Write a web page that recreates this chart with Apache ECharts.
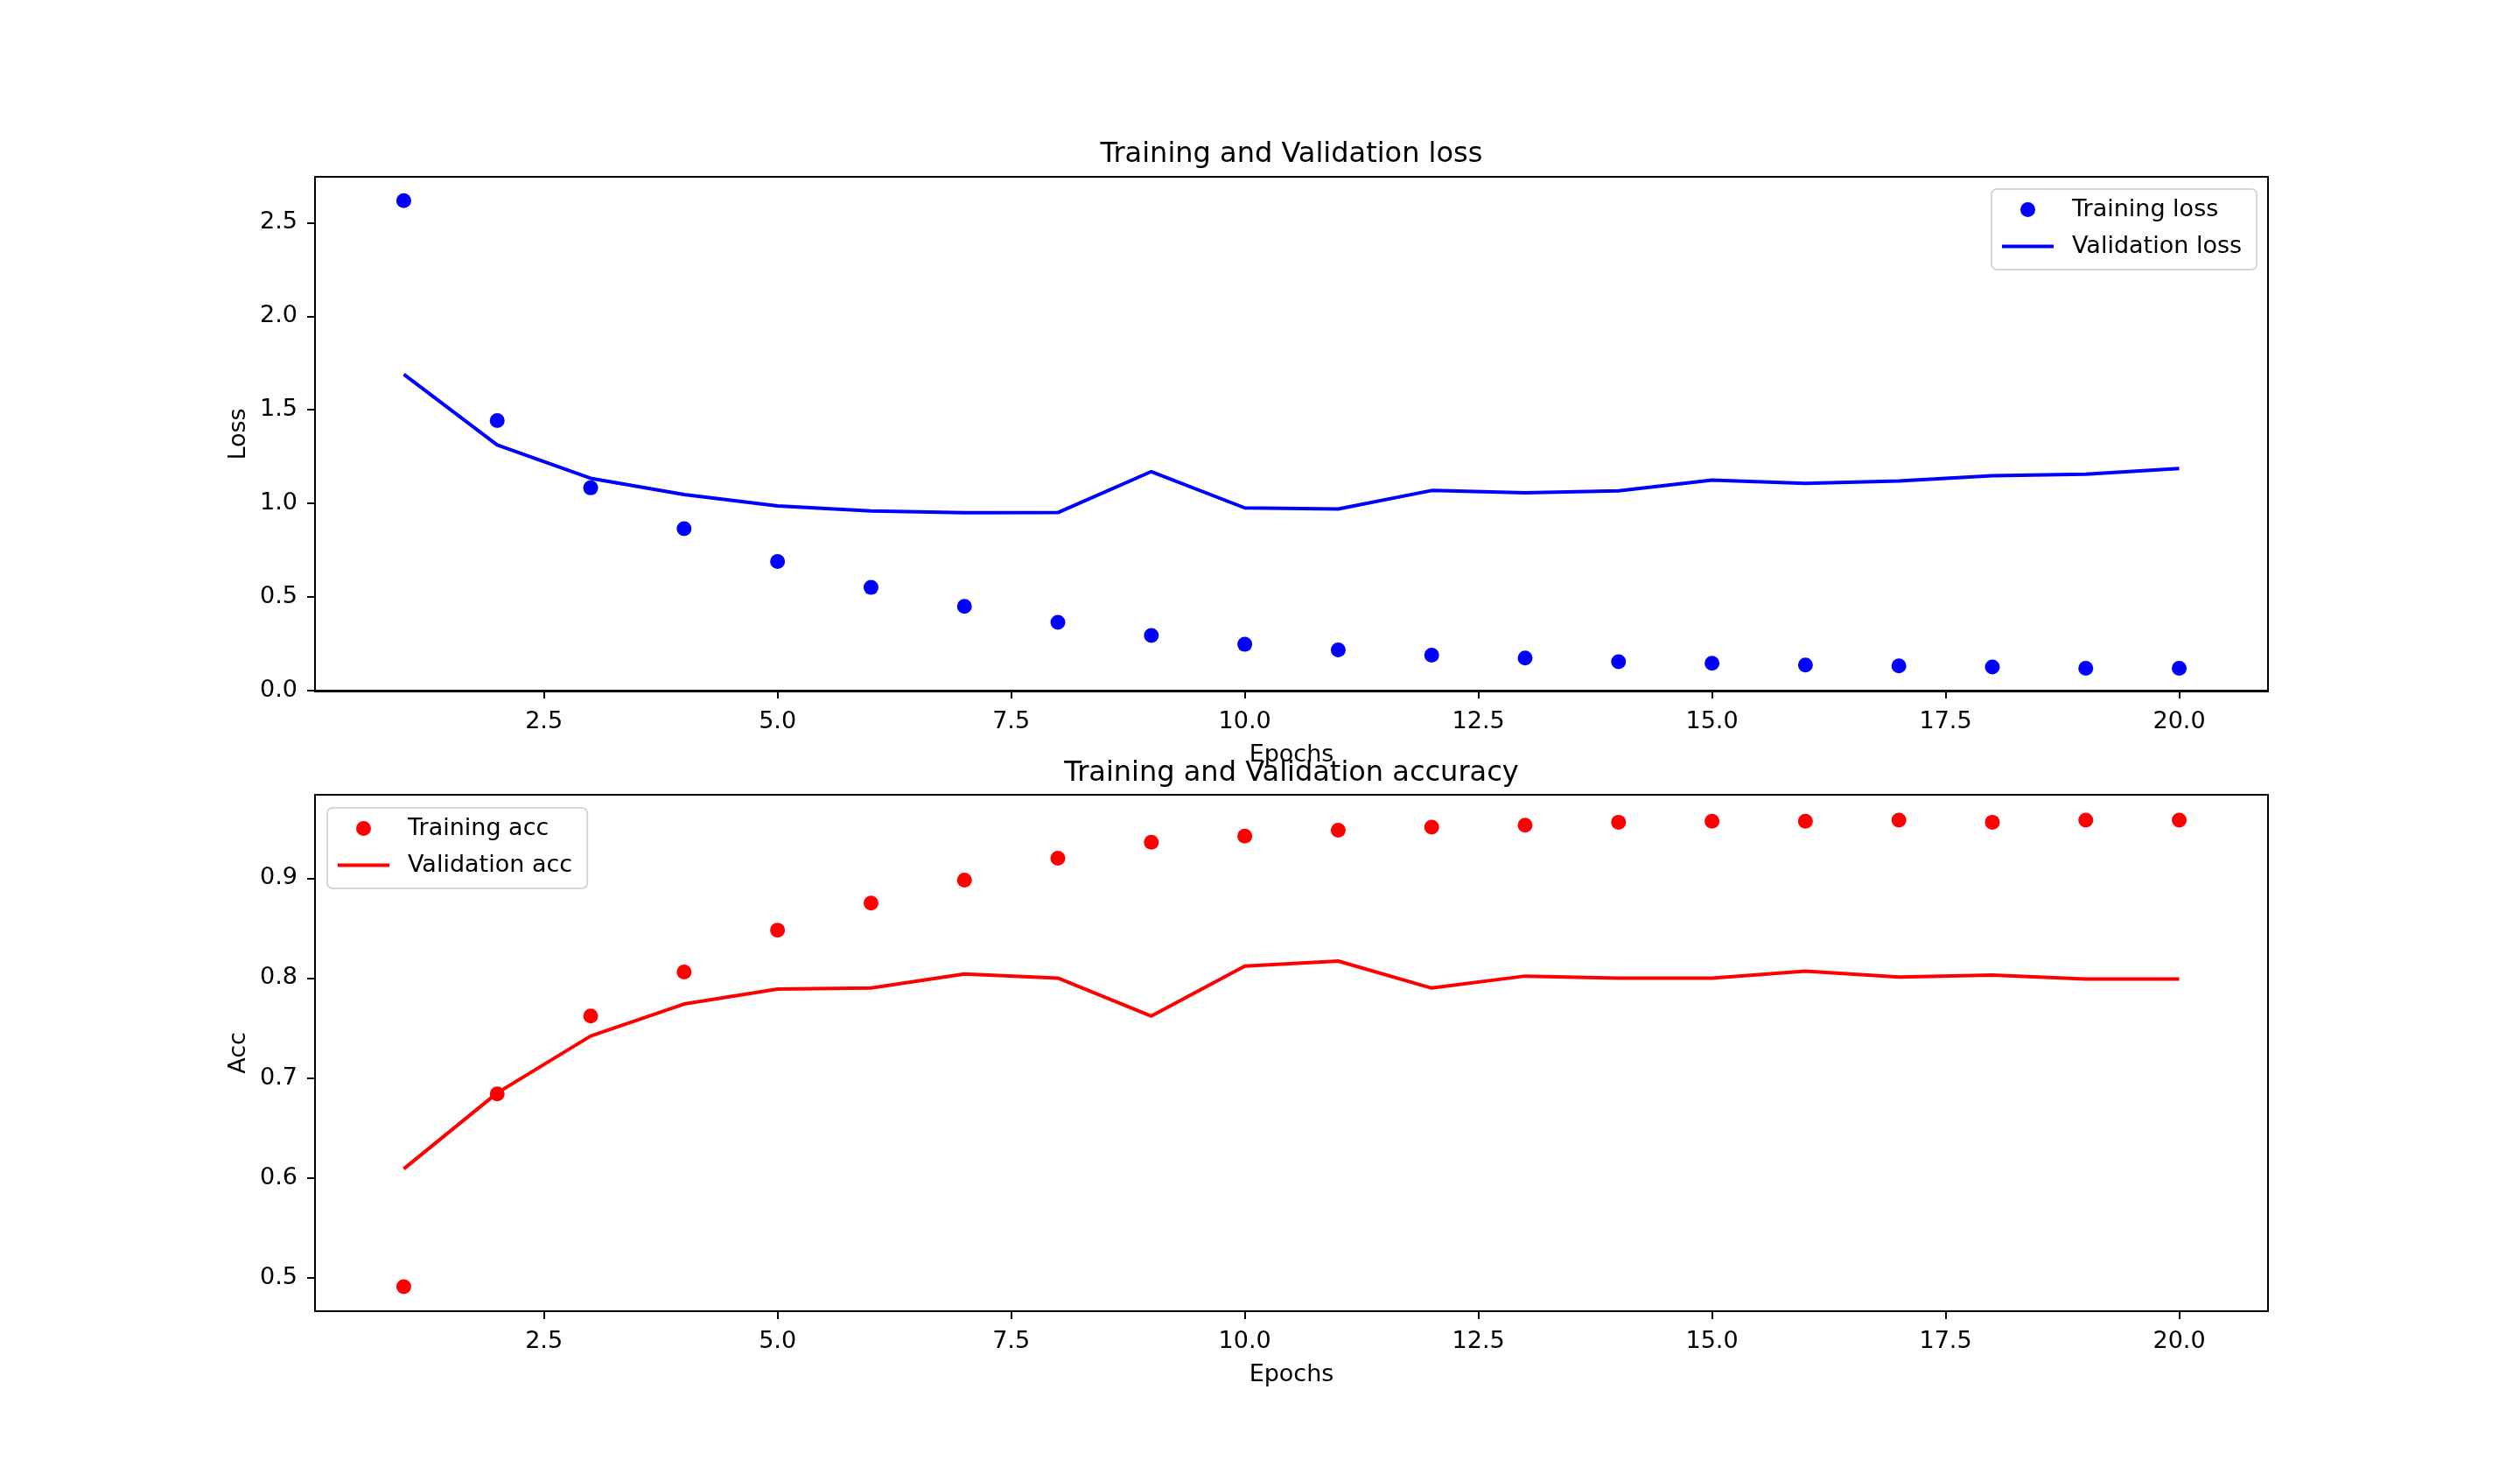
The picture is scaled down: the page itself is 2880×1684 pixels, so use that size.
<!DOCTYPE html>
<html><head><meta charset="utf-8">
<script src="https://cdn.jsdelivr.net/npm/echarts@6/dist/echarts.min.js"></script>
<style>html,body{margin:0;padding:0;background:#fff}#chart{width:2880px;height:1684px}</style>
</head><body><div id="chart"></div>
<script>
const epochs = [1,2,3,4,5,6,7,8,9,10,11,12,13,14,15,16,17,18,19,20];
const trainingLoss = [2.618,1.443,1.083,0.865,0.689,0.551,0.450,0.365,0.294,0.247,0.217,0.189,0.174,0.154,0.146,0.136,0.132,0.126,0.119,0.119];
const validationLoss = [1.690,1.312,1.134,1.047,0.986,0.960,0.950,0.951,1.170,0.976,0.970,1.069,1.057,1.067,1.124,1.107,1.120,1.148,1.156,1.186];
const trainingAcc = [0.491,0.684,0.762,0.806,0.848,0.875,0.898,0.920,0.936,0.942,0.948,0.951,0.953,0.956,0.957,0.957,0.958,0.956,0.958,0.958];
const validationAcc = [0.609,0.685,0.742,0.774,0.789,0.790,0.804,0.800,0.762,0.812,0.817,0.790,0.802,0.800,0.800,0.807,0.801,0.803,0.799,0.799];
const xTicks = [2.5,5,7.5,10,12.5,15,17.5,20];
const lossTicks = [0,0.5,1,1.5,2,2.5];
const accTicks = [0.5,0.6,0.7,0.8,0.9];

const FONT = 'DejaVu Sans';
const pairs = (ys) => epochs.map((x, i) => [x, ys[i]]);

function xAxisCfg(gridIndex) {
  return {
    type: 'value', gridIndex, min: 0.05, max: 20.95,
    name: 'Epochs', nameLocation: 'middle', nameGap: 59,
    nameTextStyle: {fontFamily: FONT, fontSize: 27, color: '#000'},
    splitLine: {show: false},
    axisLine: {show: true, lineStyle: {color: '#000', width: 2}},
    axisTick: {show: true, length: 9, lineStyle: {color: '#000', width: 2}, customValues: xTicks},
    axisLabel: {fontFamily: FONT, fontSize: 27, color: '#000', margin: 21, customValues: xTicks,
      formatter: v => Number(v).toFixed(1)}
  };
}
function yAxisCfg(gridIndex, name, min, max, ticks) {
  return {
    type: 'value', gridIndex, min, max,
    name, nameLocation: 'middle', nameGap: 70,
    nameTextStyle: {fontFamily: FONT, fontSize: 27, color: '#000'},
    splitLine: {show: false},
    axisLine: {show: true, lineStyle: {color: '#000', width: 2}},
    axisTick: {show: true, length: 9, lineStyle: {color: '#000', width: 2}, customValues: ticks},
    axisLabel: {fontFamily: FONT, fontSize: 27, color: '#000', margin: 20, customValues: ticks,
      formatter: v => Number(v).toFixed(1)}
  };
}
function legendCfg(left, top, names, color) {
  return {
    orient: 'vertical', left, top,
    data: [
      {name: names[0]},
      {name: names[1], itemStyle: {opacity: 0}, lineStyle: {width: 4, color: color}}
    ],
    itemWidth: 59, itemHeight: 17, itemGap: 15,
    padding: [10, 17, 13, 10],
    backgroundColor: 'rgba(255,255,255,0.8)',
    borderColor: 'rgba(204,204,204,0.8)', borderWidth: 2, borderRadius: 6,
    textStyle: {fontFamily: FONT, fontSize: 27, color: '#000', padding: [0, 0, 0, 16]}
  };
}

const chart = echarts.init(document.getElementById('chart'), null, {renderer: 'canvas'});
chart.setOption({
  animation: false,
  backgroundColor: '#fff',
  title: [
    {text: 'Training and Validation loss', left: 1476, top: 161, textAlign: 'center', padding: 0,
     textStyle: {fontFamily: FONT, fontSize: 32, fontWeight: 'normal', color: '#000'}},
    {text: 'Training and Validation accuracy', left: 1476, top: 868, textAlign: 'center', padding: 0,
     textStyle: {fontFamily: FONT, fontSize: 32, fontWeight: 'normal', color: '#000'}}
  ],
  grid: [
    {left: 360, top: 202, width: 2232, height: 588, show: true, borderColor: '#000', borderWidth: 2, backgroundColor: 'transparent'},
    {left: 360, top: 908, width: 2232, height: 590, show: true, borderColor: '#000', borderWidth: 2, backgroundColor: 'transparent'}
  ],
  xAxis: [xAxisCfg(0), xAxisCfg(1)],
  yAxis: [
    yAxisCfg(0, 'Loss', -0.005, 2.745, lossTicks),
    yAxisCfg(1, 'Acc', 0.4665, 0.9835, accTicks)
  ],
  legend: [
    legendCfg(2276, 216, ['Training loss', 'Validation loss'], '#0000ff'),
    legendCfg(374, 923, ['Training acc', 'Validation acc'], '#ff0000')
  ],
  series: [
    {name: 'Training loss', type: 'scatter', xAxisIndex: 0, yAxisIndex: 0, data: pairs(trainingLoss),
     symbol: 'circle', symbolSize: 17, itemStyle: {color: '#0000ff', opacity: 1}},
    {name: 'Validation loss', type: 'line', xAxisIndex: 0, yAxisIndex: 0, data: pairs(validationLoss),
     symbol: 'none', showSymbol: false, lineStyle: {color: '#0000ff', width: 4}, itemStyle: {color: '#0000ff'}},
    {name: 'Training acc', type: 'scatter', xAxisIndex: 1, yAxisIndex: 1, data: pairs(trainingAcc),
     symbol: 'circle', symbolSize: 17, itemStyle: {color: '#ff0000', opacity: 1}},
    {name: 'Validation acc', type: 'line', xAxisIndex: 1, yAxisIndex: 1, data: pairs(validationAcc),
     symbol: 'none', showSymbol: false, lineStyle: {color: '#ff0000', width: 4}, itemStyle: {color: '#ff0000'}}
  ]
});
</script></body></html>
